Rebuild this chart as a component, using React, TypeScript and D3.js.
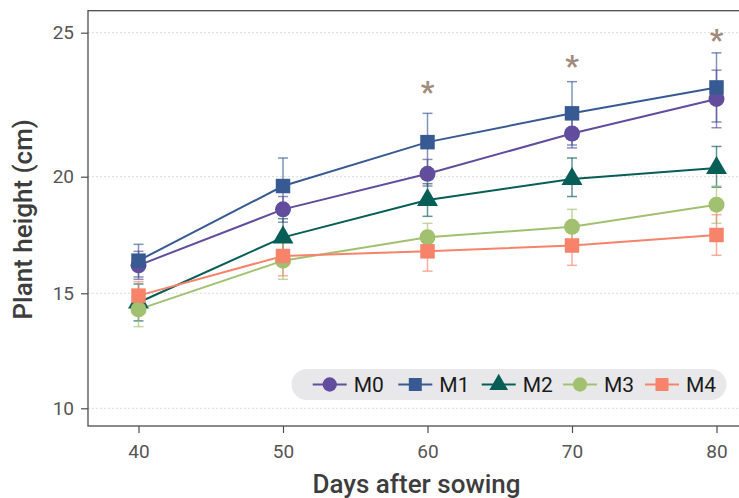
import { useEffect, useRef } from 'react';
import * as d3 from 'd3';

const days = [40, 50, 60, 70, 80];
const seriesNames = ['M0', 'M1', 'M2', 'M3', 'M4'];
const m0 = [16.2, 18.6, 20.1, 21.5, 22.7];
const m1 = [16.4, 19.6, 21.2, 22.2, 23.1];
const m2 = [14.6, 17.4, 19.0, 19.9, 20.3];
const m3 = [14.3, 16.4, 17.4, 17.85, 18.8];
const m4 = [14.9, 16.6, 16.8, 17.05, 17.5];
const m0Err = [0.6, 0.55, 0.5, 0.5, 1.0];
const m1Err = [0.7, 1.05, 1.0, 1.1, 1.2];
const m2Err = [0.8, 0.8, 0.7, 0.75, 0.75];
const m3Err = [0.75, 0.8, 0.6, 0.75, 0.8];
const m4Err = [0.6, 0.85, 0.85, 0.85, 0.87];
const yTicks = [10, 15, 20, 25];
const starDays = [60, 70, 80];
const starValues = [23.05, 23.95, 24.85];

const colors = ['#624c9e', '#385a92', '#075e56', '#a2c170', '#f6836a'];
const shapes = [d3.symbolCircle, d3.symbolSquare, d3.symbolTriangle, d3.symbolCircle, d3.symbolSquare];
const sizes = [200, 210, 190, 200, 210];

const [width, height] = [739, 498];
const panel = { left: 88, top: 10.7, bottom: 426, right: 745 };

const xScale = d3.scaleLinear().domain([40, 80]).range([138.5, 716.5]);
// the y axis is not evenly spaced in the reference, so a piecewise scale is used
const yScale = d3.scaleLinear().domain([10, 15, 20, 25]).range([408.3, 293.3, 176.7, 32.7]);

function App() {
  const node = useRef<SVGSVGElement>(null);

  useEffect(() => {
    if (!node.current) return;
    const svg = d3.select(node.current);
    svg.selectAll('*').remove();
    const font = 'Roboto, "Noto Sans", sans-serif';

    const values = [m0, m1, m2, m3, m4];
    const errs = [m0Err, m1Err, m2Err, m3Err, m4Err];
    const series = seriesNames.map((name, i) => ({
      name, color: colors[i], shape: shapes[i], size: sizes[i],
      pts: days.map((d, j) => ({ d, v: values[i][j], e: errs[i][j] })),
    }));

    /** grid */
    svg.append('g').selectAll('line').data(yTicks).enter().append('line')
      .attr('x1', panel.left).attr('x2', panel.right)
      .attr('y1', d => yScale(d)).attr('y2', d => yScale(d))
      .attr('stroke', '#dcdcdc').attr('stroke-width', 1).attr('stroke-dasharray', '2,2');

    /** error bars */
    series.forEach(s => {
      const g = svg.append('g').attr('stroke', s.color).attr('stroke-opacity', 0.65).attr('stroke-width', 1.5);
      s.pts.forEach(p => {
        const x = xScale(p.d);
        const y1 = yScale(p.v - p.e), y2 = yScale(p.v + p.e);
        g.append('line').attr('x1', x).attr('x2', x).attr('y1', y1).attr('y2', y2);
        g.append('line').attr('x1', x - 5).attr('x2', x + 5).attr('y1', y1).attr('y2', y1);
        g.append('line').attr('x1', x - 5).attr('x2', x + 5).attr('y1', y2).attr('y2', y2);
      });
    });

    /** lines + markers */
    const line = d3.line<{ d: number; v: number }>().x(p => xScale(p.d)).y(p => yScale(p.v));
    series.forEach(s => {
      svg.append('path').datum(s.pts).attr('d', line)
        .attr('fill', 'none').attr('stroke', s.color).attr('stroke-width', 2);
    });
    series.forEach(s => {
      svg.append('g').selectAll('path').data(s.pts).enter().append('path')
        .attr('d', d3.symbol().type(s.shape).size(s.size)())
        .attr('transform', p => `translate(${xScale(p.d)},${yScale(p.v)})`)
        .attr('fill', s.color);
    });

    /** significance stars */
    svg.append('g').selectAll('text').data(starDays).enter().append('text')
      .attr('x', d => xScale(d)).attr('y', (d, i) => yScale(starValues[i]) + 13)
      .attr('text-anchor', 'middle').attr('font-family', font).attr('font-weight', 700)
      .attr('font-size', 30).attr('fill', '#a08c7c').text('*');

    /** panel border */
    svg.append('rect')
      .attr('x', panel.left).attr('y', panel.top)
      .attr('width', panel.right - panel.left).attr('height', panel.bottom - panel.top)
      .attr('fill', 'none').attr('stroke', '#4d4d4d').attr('stroke-width', 1.3);

    /** axes */
    const yAxis = svg.append('g').attr('transform', `translate(${panel.left},0)`)
      .call(d3.axisLeft(yScale).tickValues(yTicks).tickSize(7).tickPadding(7));
    const xAxis = svg.append('g').attr('transform', `translate(0,${panel.bottom})`)
      .call(d3.axisBottom(xScale).tickValues(days).tickSize(7).tickPadding(12));
    [yAxis, xAxis].forEach(a => {
      a.select('.domain').remove();
      a.selectAll('line').attr('stroke', '#4d4d4d').attr('stroke-width', 1.2);
      a.selectAll('text').attr('font-family', font).attr('font-size', 19).attr('fill', '#555555');
    });

    svg.append('text')
      .attr('transform', `translate(32,${(panel.top + panel.bottom) / 2 + 1}) rotate(-90)`)
      .attr('text-anchor', 'middle').attr('font-family', font).attr('font-weight', 500)
      .attr('font-size', 26).attr('fill', '#3d3d3d').text('Plant height (cm)');
    svg.append('text')
      .attr('x', (panel.left + 739) / 2 + 3).attr('y', 493)
      .attr('text-anchor', 'middle').attr('font-family', font).attr('font-weight', 500)
      .attr('font-size', 26).attr('fill', '#3d3d3d').text('Days after sowing');

    /** legend */
    const legend = svg.append('g');
    legend.append('rect').attr('x', 291.5).attr('y', 369).attr('width', 435).attr('height', 31)
      .attr('rx', 15.5).attr('fill', '#e8e8ea');
    const itemX = [312.7, 398.3, 481.7, 563, 645];
    series.forEach((s, i) => {
      const gx = itemX[i];
      const g = legend.append('g').attr('transform', `translate(${gx},384.5)`);
      g.append('line').attr('x1', 0).attr('x2', 34).attr('stroke', s.color).attr('stroke-width', 2);
      g.append('path').attr('d', d3.symbol().type(s.shape).size(s.size * 0.8)())
        .attr('transform', 'translate(17,0)').attr('fill', s.color);
      g.append('text').attr('x', 41).attr('y', 7.5).attr('font-family', font)
        .attr('font-size', 21).attr('fill', '#1a1a1a').text(s.name);
    });
  }, [node]);

  return (
    <svg ref={node} width={width} height={height}
      style={{ position: 'absolute', left: 0, top: 0, background: '#fff' }} />
  );
}

export default App;
